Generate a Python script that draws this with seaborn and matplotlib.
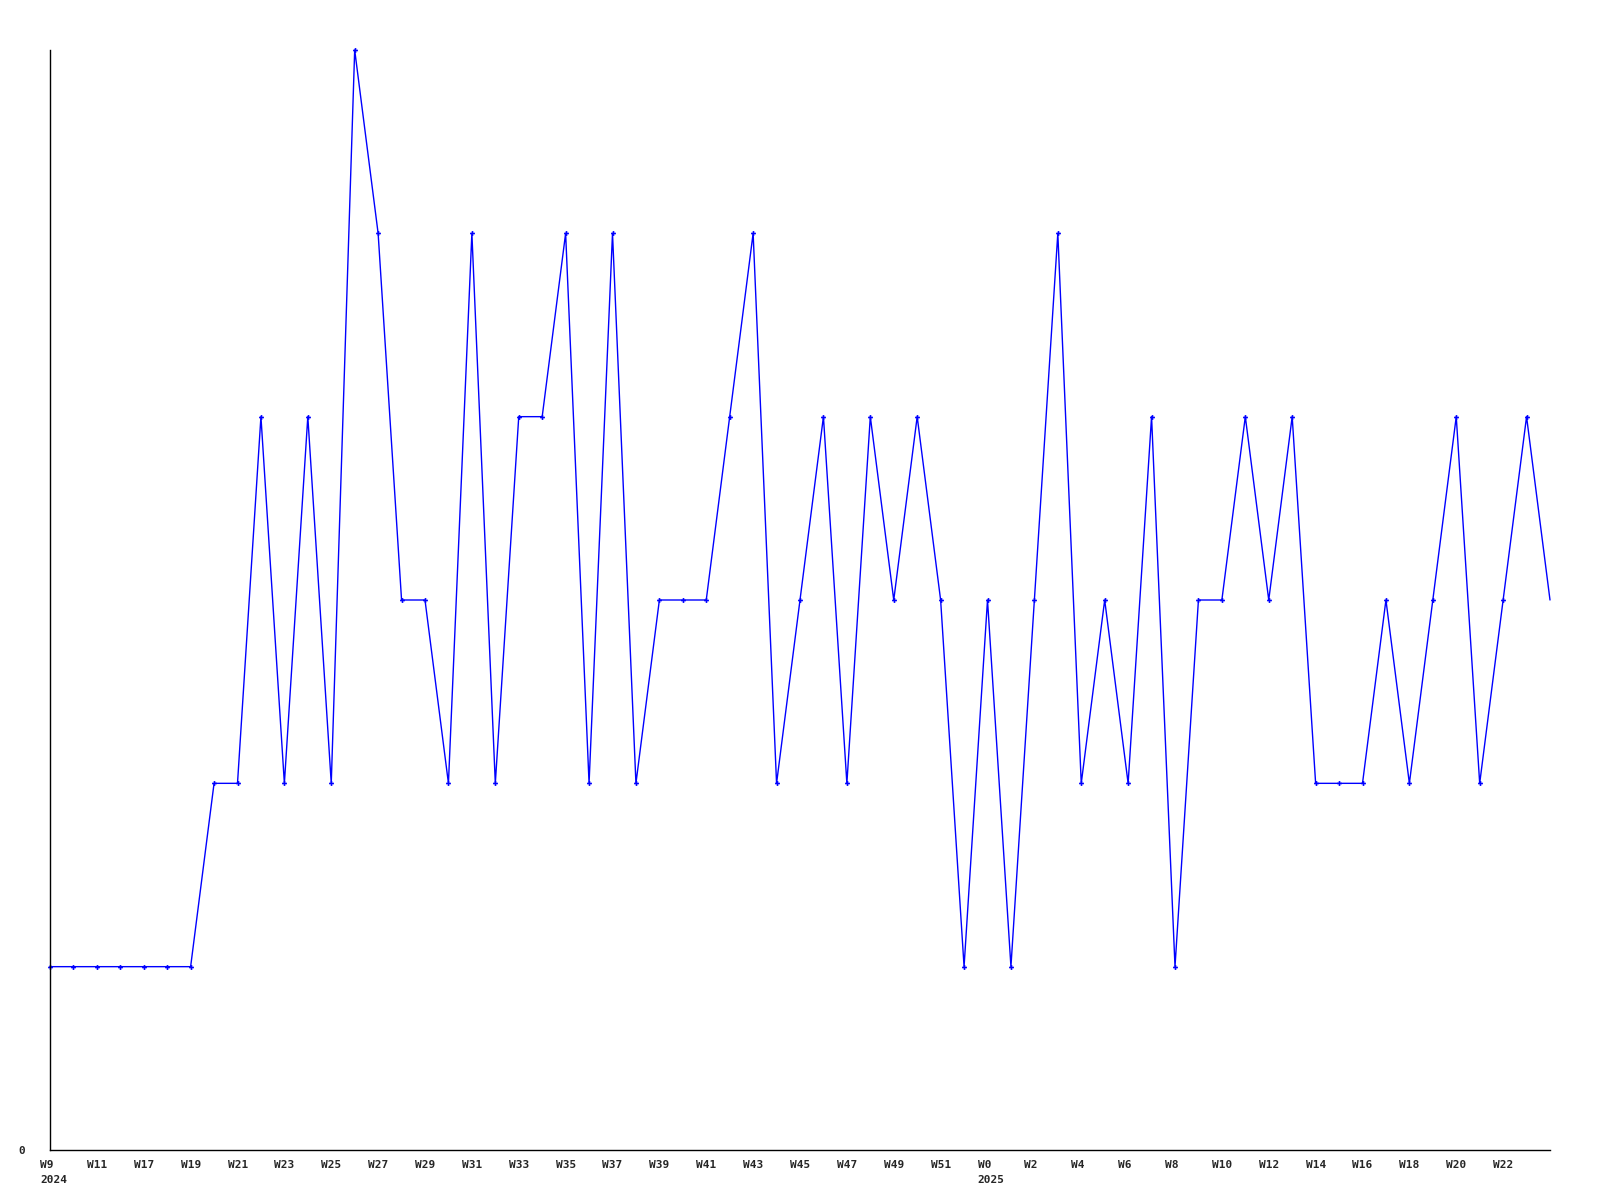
import matplotlib
matplotlib.use("Agg")
import matplotlib.pyplot as plt
import matplotlib.transforms as mtransforms
import pandas as pd
import seaborn as sns

# weekly counts, W9 2024 .. W24 2025 (one point per week)
VALUES = [
    1, 1, 1, 1, 1, 1, 1, 2, 2, 4,
    2, 4, 2, 6, 5, 3, 3, 2, 5, 2,
    4, 4, 5, 2, 5, 2, 3, 3, 3, 4,
    5, 2, 3, 4, 2, 4, 3, 4, 3, 1,
    3, 1, 3, 5, 2, 3, 2, 4, 1, 3,
    3, 4, 3, 4, 2, 2, 2, 3, 2, 3,
    4, 2, 3, 4, 3,
]

# labels shown on every second point, as in the source chart
TICK_LABELS = [
    "W9\n2024", "W11", "W17", "W19", "W21", "W23", "W25", "W27",
    "W29", "W31", "W33", "W35", "W37", "W39", "W41", "W43",
    "W45", "W47", "W49", "W51", "W0\n2025", "W2", "W4", "W6",
    "W8", "W10", "W12", "W14", "W16", "W18", "W20", "W22",
]

BLUE = "#0000ff"

sns.set_style("white")
plt.rcParams["font.family"] = ["DejaVu Sans Mono", "DejaVu Sans"]

df = pd.DataFrame({"week": range(len(VALUES)), "count": VALUES})

fig = plt.figure(figsize=(16, 12), dpi=100)
ax = fig.add_axes([50 / 1600, 50 / 1200, 1500 / 1600, 1100 / 1200])

# the last week is drawn without a marker in the original
sns.lineplot(
    data=df,
    x="week",
    y="count",
    color=BLUE,
    linewidth=1.0,
    marker="P",
    markersize=3.5,
    markeredgewidth=0,
    markerfacecolor=BLUE,
    markevery=list(range(len(VALUES) - 1)),
    ax=ax,
    clip_on=False,
)

ax.set_xlim(0, len(VALUES) - 1)
ax.set_ylim(0, 6)

ax.set_xticks(range(0, 2 * len(TICK_LABELS), 2))
ax.set_xticklabels(TICK_LABELS, ha="left", multialignment="left",
                   fontsize=8, fontweight="bold", linespacing=1.6)
ax.set_yticks([0])
ax.set_yticklabels(["0"], fontsize=8, fontweight="bold")

ax.tick_params(axis="x", length=0, pad=7)
ax.tick_params(axis="y", length=0, pad=18)

offset = mtransforms.ScaledTranslation(-10 / 100, 0, fig.dpi_scale_trans)
for label in ax.get_xticklabels():
    label.set_transform(label.get_transform() + offset)

ax.set_xlabel("")
ax.set_ylabel("")

for side in ["top", "right"]:
    ax.spines[side].set_visible(False)
for side in ["left", "bottom"]:
    ax.spines[side].set_color("black")
    ax.spines[side].set_linewidth(1.0)

ax.grid(False)

fig.savefig("out.png", dpi=100)
plt.close(fig)
